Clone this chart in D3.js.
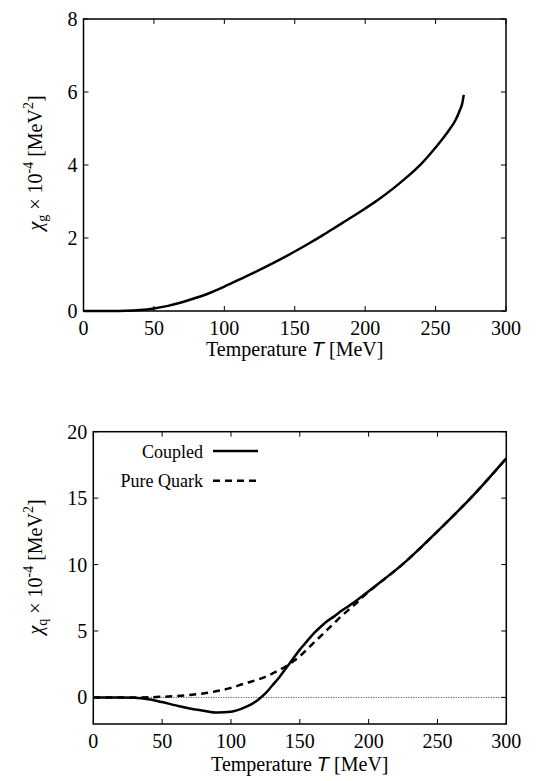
<!DOCTYPE html>
<html>
<head>
    <meta charset="utf-8">
    <title></title>
    <style>
        body { margin: 0; background: #fff; }
        .frame { fill: none; stroke: #000; stroke-width: 1.5px; }
        .tick { stroke: #000; stroke-width: 1px; }
    </style>
</head>
<body>
<script src="https://cdn.jsdelivr.net/npm/d3@7/dist/d3.min.js"></script>
<script>
    var width  = 539;
    var height = 781;
    var serif = "'Liberation Serif', 'Times New Roman', Times, 'DejaVu Serif', serif";

    // top panel: gluon susceptibility
    const tG    = [0, 10, 20, 30, 40, 50, 60, 75, 90, 100, 110, 120, 130, 140, 150, 160, 170, 180, 190, 200, 210, 220, 230, 240, 250, 255, 260, 264, 267, 269, 270];
    const chiG  = [0, 0, 0, 0.005, 0.025, 0.07, 0.14, 0.3, 0.5, 0.67, 0.85, 1.03, 1.22, 1.42, 1.63, 1.85, 2.08, 2.32, 2.56, 2.81, 3.07, 3.36, 3.68, 4.04, 4.48, 4.72, 4.98, 5.22, 5.48, 5.7, 5.92];

    // bottom panel: quark susceptibility
    const tQ       = [0, 10, 20, 30, 40, 50, 60, 70, 80, 90, 100, 110, 115, 120, 125, 130, 135, 140, 145, 150, 155, 160, 165, 170, 175, 180, 185, 190, 195, 200, 225, 250, 275, 300];
    const coupled  = [0, 0, 0, -0.02, -0.13, -0.35, -0.6, -0.83, -1.0, -1.14, -1.08, -0.75, -0.5, -0.15, 0.3, 0.9, 1.5, 2.2, 2.9, 3.6, 4.2, 4.8, 5.3, 5.75, 6.1, 6.5, 6.85, 7.2, 7.6, 8.0, 10.05, 12.5, 15.1, 18.0];
    const pureQ    = [0, 0, 0, 0, 0.01, 0.05, 0.1, 0.18, 0.3, 0.48, 0.72, 1.05, 1.2, 1.36, 1.55, 1.8, 2.05, 2.35, 2.7, 3.1, 3.6, 4.1, 4.6, 5.1, 5.6, 6.1, 6.55, 7.0, 7.5, 7.95, 10.05, 12.5, 15.1, 18.0];

    const xTicks  = [0, 50, 100, 150, 200, 250, 300];
    const yTicksG = [0, 2, 4, 6, 8];
    const yTicksQ = [0, 5, 10, 15, 20];

    var svg = d3.select("body").append("svg")
        .attr("width", width)
        .attr("height", height)
        .attr("font-family", serif);

    function panel(box, yDomain, yTicks, sub, titleY) {
        var x = d3.scaleLinear().domain([0, 300]).range([box.l, box.r]);
        var y = d3.scaleLinear().domain(yDomain).range([box.b, box.t]);
        var g = svg.append("g");

        // ticks on all four sides, pointing inward
        xTicks.forEach(function(v){
            g.append("line").attr("class","tick").attr("x1",x(v)).attr("x2",x(v)).attr("y1",box.b).attr("y2",box.b-5);
            g.append("line").attr("class","tick").attr("x1",x(v)).attr("x2",x(v)).attr("y1",box.t).attr("y2",box.t+5);
            g.append("text").attr("x",x(v)).attr("y",box.b+24)
                .attr("text-anchor","middle").attr("font-size","20px").text(v);
        });
        yTicks.forEach(function(v){
            g.append("line").attr("class","tick").attr("x1",box.l).attr("x2",box.l+5).attr("y1",y(v)).attr("y2",y(v));
            g.append("line").attr("class","tick").attr("x1",box.r).attr("x2",box.r-5).attr("y1",y(v)).attr("y2",y(v));
            g.append("text").attr("x",box.l-6).attr("y",y(v)+7)
                .attr("text-anchor","end").attr("font-size","20px").text(v);
        });

        g.append("rect").attr("class","frame")
            .attr("x",box.l).attr("y",box.t)
            .attr("width",box.r-box.l).attr("height",box.b-box.t);

        // x title
        var xt = g.append("text").attr("x",(box.l+box.r)/2).attr("y",titleY)
            .attr("text-anchor","middle").attr("font-size","20px");
        xt.append("tspan").text("Temperature ");
        xt.append("tspan").attr("font-family","'Liberation Sans', Arial, sans-serif").attr("font-style","italic").text("T");
        xt.append("tspan").text(" [MeV]");

        // y title
        var yt = g.append("text")
            .attr("transform","translate(42," + box.cy + ") rotate(-90)")
            .attr("text-anchor","middle").attr("font-size","20px");
        yt.append("tspan").attr("font-style","italic").text("\u03c7");
        yt.append("tspan").attr("font-size","14px").attr("dy",5).text(sub);
        yt.append("tspan").attr("dy",-5).text(" \u00d7 10");
        yt.append("tspan").attr("font-size","14px").attr("dy",-9).text("-4");
        yt.append("tspan").attr("dy",9).text(" [MeV");
        yt.append("tspan").attr("font-size","14px").attr("dy",-9).text("2");
        yt.append("tspan").attr("dy",9).text("]");

        return {x: x, y: y, g: g};
    }

    // top panel
    var p1 = panel({l: 83.5, r: 506, t: 19, b: 311, cy: 163}, [0, 8], yTicksG, "g", 356);
    var line1 = d3.line().x(function(d){ return p1.x(d[0]); }).y(function(d){ return p1.y(d[1]); }).curve(d3.curveMonotoneX);
    p1.g.append("path")
        .attr("d", line1(d3.zip(tG, chiG)))
        .attr("fill","none").attr("stroke","#000").attr("stroke-width",2.5);

    // bottom panel
    var p2 = panel({l: 93.3, r: 506.3, t: 431.7, b: 724, cy: 567}, [-2, 20], yTicksQ, "q", 771);
    p2.g.append("line")
        .attr("x1",p2.x(0)).attr("x2",p2.x(300)).attr("y1",p2.y(0)).attr("y2",p2.y(0))
        .attr("stroke","#000").attr("stroke-width",0.8).attr("stroke-dasharray","1,1.5");
    var line2 = d3.line().x(function(d){ return p2.x(d[0]); }).y(function(d){ return p2.y(d[1]); }).curve(d3.curveMonotoneX);
    p2.g.append("path")
        .attr("d", line2(d3.zip(tQ, pureQ)))
        .attr("fill","none").attr("stroke","#000").attr("stroke-width",2.5).attr("stroke-dasharray","7,5");
    p2.g.append("path")
        .attr("d", line2(d3.zip(tQ, coupled)))
        .attr("fill","none").attr("stroke","#000").attr("stroke-width",2.5);

    // legend
    const legendNames = ["Coupled", "Pure Quark"];
    const legendDash  = [null, "7,5"];
    legendNames.forEach(function(name, i){
        var ly = 451 + i * 29.7;
        p2.g.append("text").attr("x",203).attr("y",ly+6.5)
            .attr("text-anchor","end").attr("font-size","18px").text(name);
        p2.g.append("line").attr("x1",213).attr("x2",258).attr("y1",ly).attr("y2",ly)
            .attr("stroke","#000").attr("stroke-width",2.5)
            .attr("stroke-dasharray", legendDash[i]);
    });
</script>
</body>
</html>
